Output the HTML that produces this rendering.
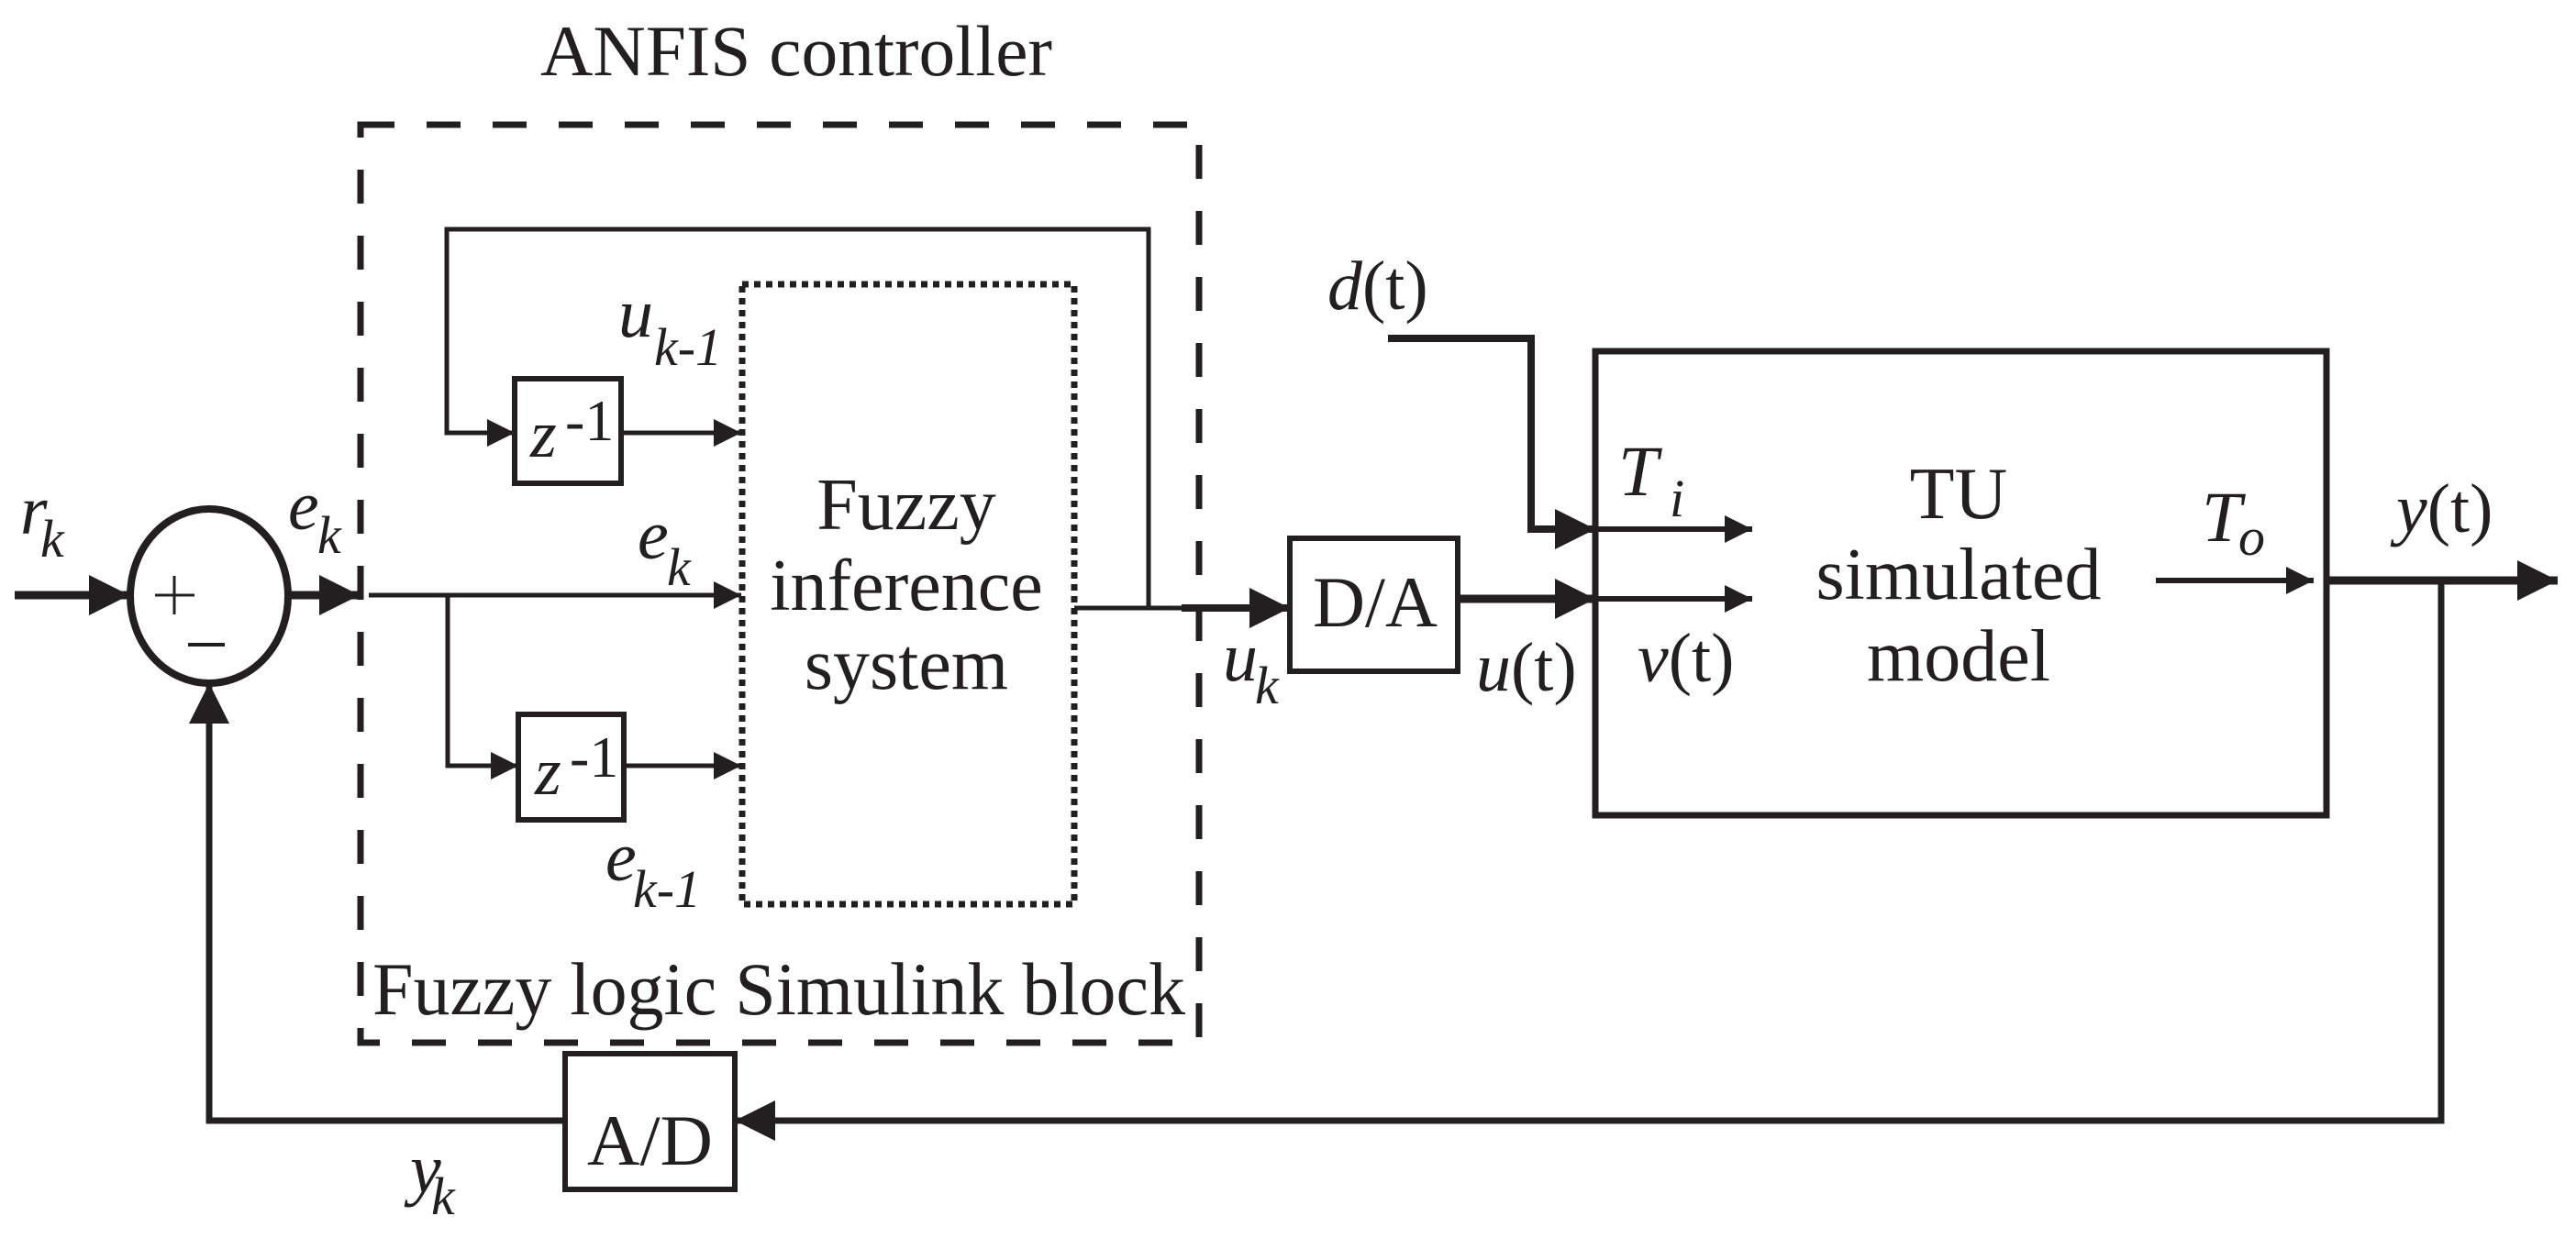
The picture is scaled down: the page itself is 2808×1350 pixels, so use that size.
<!DOCTYPE html>
<html><head><meta charset="utf-8"><style>
html,body{margin:0;padding:0;background:#fff;}
svg{display:block;}
text{font-family:"Liberation Serif","Times New Roman","DejaVu Serif",serif;fill:#231f20;}
.i{font-style:italic;}
</style></head><body>
<svg width="2808" height="1350" viewBox="0 0 2808 1350" xmlns="http://www.w3.org/2000/svg" font-family="Liberation Serif, Times New Roman, DejaVu Serif, serif">
<defs>
<marker id="big" markerUnits="userSpaceOnUse" markerWidth="46" markerHeight="46" refX="44" refY="22" orient="auto"><path d="M0,0 L44,22 L0,44 Z" fill="#231f20"/></marker>
<marker id="sm" markerUnits="userSpaceOnUse" markerWidth="32" markerHeight="32" refX="30" refY="15" orient="auto"><path d="M0,0 L30,15 L0,30 Z" fill="#231f20"/></marker>
</defs>
<g stroke="#231f20" fill="none">
<rect x="393" y="136" width="914" height="1001" stroke-width="7" stroke-dasharray="37 35"/>
<rect x="809" y="310" width="362" height="676" stroke-width="7" stroke-dasharray="7 6"/>
<ellipse cx="228" cy="650" rx="86" ry="95" stroke-width="8"/>
<line x1="16" y1="649" x2="141" y2="649" stroke-width="9" marker-end="url(#big)"/>
<line x1="315" y1="649" x2="392" y2="649" stroke-width="9" marker-end="url(#big)"/>
<line x1="402" y1="649" x2="808" y2="649" stroke-width="5" marker-end="url(#sm)"/>
<polyline points="488,649 488,835 565,835" stroke-width="5" marker-end="url(#sm)"/>
<rect x="565" y="779" width="115" height="115" stroke-width="6"/>
<line x1="680" y1="835" x2="808" y2="835" stroke-width="5" marker-end="url(#sm)"/>
<polyline points="1252,663 1252,250 487,250 487,472 561,472" stroke-width="5" marker-end="url(#sm)"/>
<rect x="561" y="413" width="116" height="114" stroke-width="6"/>
<line x1="677" y1="472" x2="808" y2="472" stroke-width="5" marker-end="url(#sm)"/>
<line x1="1171" y1="663" x2="1290" y2="663" stroke-width="5"/>
<line x1="1288" y1="663" x2="1406" y2="663" stroke-width="8" marker-end="url(#big)"/>
<rect x="1406" y="587" width="183" height="145" stroke-width="6"/>
<line x1="1589" y1="653" x2="1739" y2="653" stroke-width="9" marker-end="url(#big)"/>
<polyline points="1513,369 1669,369 1669,577 1739,577" stroke-width="8" marker-end="url(#big)"/>
<rect x="1739" y="383" width="797" height="506" stroke-width="7"/>
<line x1="1739" y1="577" x2="1910" y2="577" stroke-width="6" marker-end="url(#sm)"/>
<line x1="1739" y1="653" x2="1910" y2="653" stroke-width="6" marker-end="url(#sm)"/>
<line x1="2350" y1="633" x2="2522" y2="633" stroke-width="6" marker-end="url(#sm)"/>
<line x1="2536" y1="633" x2="2788" y2="633" stroke-width="9" marker-end="url(#big)"/>
<polyline points="2661,633 2661,1222 801,1222" stroke-width="7" marker-end="url(#big)"/>
<rect x="616" y="1149" width="185" height="148" stroke-width="6"/>
<polyline points="616,1222 228,1222 228,745" stroke-width="7" marker-end="url(#big)"/>
<line x1="169" y1="649" x2="212" y2="649" stroke-width="3"/>
<line x1="190" y1="628" x2="190" y2="670" stroke-width="3"/>
<line x1="205" y1="703" x2="245" y2="703" stroke-width="4"/>
</g>
<text x="589" y="82" font-size="78" textLength="558" lengthAdjust="spacingAndGlyphs">ANFIS controller</text>
<text x="406" y="1106" font-size="82" textLength="886" lengthAdjust="spacingAndGlyphs">Fuzzy logic Simulink block</text>
<text x="988" y="577" font-size="80" text-anchor="middle">Fuzzy</text>
<text x="988" y="665" font-size="80" text-anchor="middle">inference</text>
<text x="988" y="751" font-size="80" text-anchor="middle">system</text>
<text x="2135" y="565" font-size="80" text-anchor="middle">TU</text>
<text x="2135" y="653" font-size="80" text-anchor="middle">simulated</text>
<text x="2135" y="742" font-size="80" text-anchor="middle">model</text>
<text x="1431" y="683" font-size="78" textLength="136" lengthAdjust="spacingAndGlyphs">D/A</text>
<text x="640" y="1270" font-size="78" textLength="137" lengthAdjust="spacingAndGlyphs">A/D</text>
<text x="578" y="498" font-size="74" class="i">z</text><text x="616" y="480" font-size="64">-1</text>
<text x="583" y="866" font-size="74" class="i">z</text><text x="621" y="847" font-size="64">-1</text>
<text x="22" y="582" font-size="76" class="i">r</text><text x="44" y="607" font-size="58" class="i">k</text>
<text x="314" y="577" font-size="76" class="i">e</text><text x="346" y="603" font-size="58" class="i">k</text>
<text x="695" y="609" font-size="76" class="i">e</text><text x="727" y="638" font-size="58" class="i">k</text>
<text x="674" y="367" font-size="76" class="i">u</text><text x="713" y="398" font-size="58" class="i">k-1</text>
<text x="660" y="960" font-size="76" class="i">e</text><text x="690" y="989" font-size="58" class="i">k-1</text>
<text x="1333" y="742" font-size="76" class="i">u</text><text x="1368" y="767" font-size="58" class="i">k</text>
<text x="1609" y="753" font-size="76"><tspan class="i">u</tspan>(t)</text>
<text x="1447" y="337" font-size="76"><tspan class="i">d</tspan>(t)</text>
<text x="1785" y="743" font-size="76"><tspan class="i">v</tspan>(t)</text>
<text x="1764" y="540" font-size="78" class="i">T</text><text x="1820" y="563" font-size="58" class="i">i</text>
<text x="2400" y="590" font-size="78" class="i">T</text><text x="2440" y="605" font-size="58" class="i">o</text>
<text x="2612" y="580" font-size="76"><tspan class="i">y</tspan>(t)</text>
<text x="447" y="1300" font-size="76" class="i">y</text><text x="470" y="1324" font-size="58" class="i">k</text>
</svg>
</body></html>
